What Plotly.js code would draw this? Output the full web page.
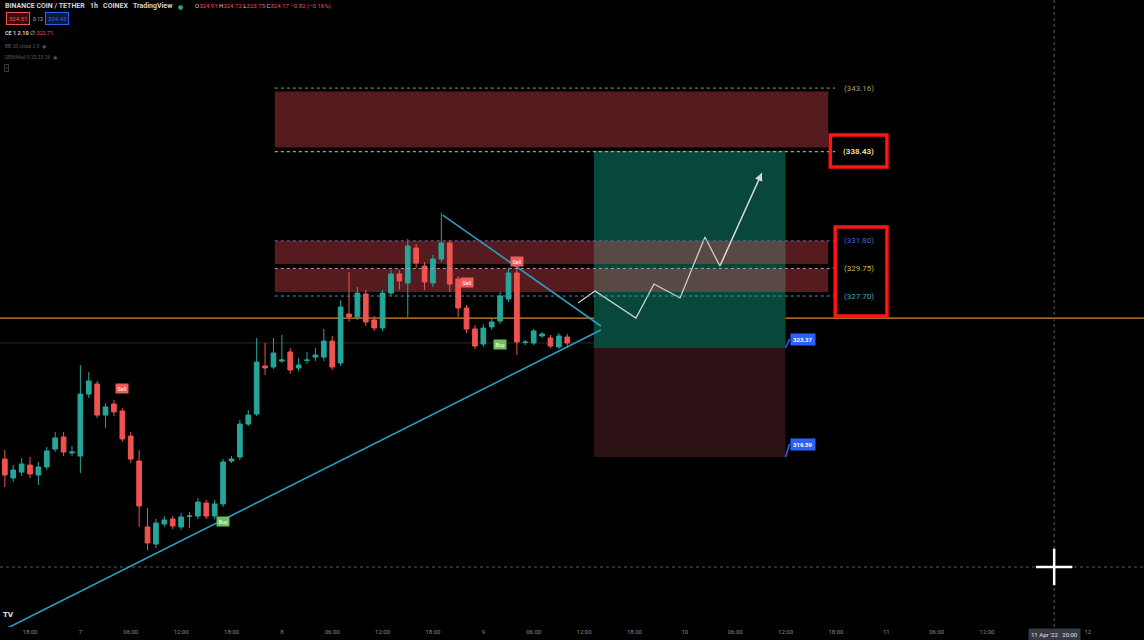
<!DOCTYPE html>
<html>
<head>
<meta charset="utf-8">
<script src="https://cdn.plot.ly/plotly-3.0.1.min.js"></script>
<style>html,body{margin:0;padding:0;background:#000;}#chart{width:1144px;height:640px;}</style>
</head>
<body>
<div id="chart"></div>
<script>
// ---------- DATA (hourly candles, BNB/USDT, COINEX) ----------
const times = [
 '2022-04-06 15:00','2022-04-06 16:00','2022-04-06 17:00','2022-04-06 18:00','2022-04-06 19:00','2022-04-06 20:00','2022-04-06 21:00','2022-04-06 22:00','2022-04-06 23:00',
 '2022-04-07 00:00','2022-04-07 01:00','2022-04-07 02:00','2022-04-07 03:00','2022-04-07 04:00','2022-04-07 05:00','2022-04-07 06:00','2022-04-07 07:00',
 '2022-04-07 08:00','2022-04-07 09:00','2022-04-07 10:00','2022-04-07 11:00','2022-04-07 12:00','2022-04-07 13:00','2022-04-07 14:00','2022-04-07 15:00',
 '2022-04-07 16:00','2022-04-07 17:00','2022-04-07 18:00','2022-04-07 19:00','2022-04-07 20:00','2022-04-07 21:00','2022-04-07 22:00','2022-04-07 23:00',
 '2022-04-08 00:00','2022-04-08 01:00','2022-04-08 02:00','2022-04-08 03:00','2022-04-08 04:00','2022-04-08 05:00','2022-04-08 06:00','2022-04-08 07:00',
 '2022-04-08 08:00','2022-04-08 09:00','2022-04-08 10:00','2022-04-08 11:00','2022-04-08 12:00','2022-04-08 13:00','2022-04-08 14:00','2022-04-08 15:00',
 '2022-04-08 16:00','2022-04-08 17:00','2022-04-08 18:00','2022-04-08 19:00','2022-04-08 20:00','2022-04-08 21:00','2022-04-08 22:00','2022-04-08 23:00',
 '2022-04-09 00:00','2022-04-09 01:00','2022-04-09 02:00','2022-04-09 03:00','2022-04-09 04:00','2022-04-09 05:00','2022-04-09 06:00','2022-04-09 07:00',
 '2022-04-09 08:00','2022-04-09 09:00','2022-04-09 10:00'
];
const openP = [315.58,314.17,314.61,315.13,314.39,314.99,316.32,317.22,316.03,315.80,320.41,321.16,318.85,319.67,319.15,317.29,315.43,310.53,309.26,310.75,311.12,310.53,311.31,311.34,312.31,311.34,312.24,315.43,315.73,318.18,318.93,322.50,322.42,322.87,323.54,322.35,322.90,323.16,323.16,324.35,322.72,326.36,326.14,327.85,325.92,325.32,327.92,329.34,328.67,331.27,329.93,328.67,330.45,331.64,328.96,326.81,325.25,324.13,325.40,325.84,327.48,329.41,324.24,324.21,324.73,324.58,323.91,324.65];
const highP = [316.25,315.13,315.66,315.73,315.36,316.47,317.59,317.59,316.55,322.57,322.05,321.38,319.74,319.97,319.37,317.59,316.25,311.94,311.12,311.34,311.34,311.57,311.64,312.68,312.53,312.53,315.58,315.80,318.48,319.22,324.58,324.21,324.58,324.80,323.83,323.09,323.54,323.83,325.25,324.73,327.40,329.48,328.37,328.15,326.21,328.15,329.63,329.63,331.94,331.57,330.23,330.75,333.87,331.86,329.19,327.03,325.54,325.62,326.06,328.00,329.78,329.78,324.43,325.25,325.02,324.80,324.95,324.88];
const lowP  = [313.50,313.87,314.32,314.17,313.65,314.76,316.10,315.80,315.80,314.54,320.12,318.63,317.89,318.78,316.85,315.28,310.53,308.82,308.96,310.53,310.38,310.30,310.45,311.12,311.12,311.12,312.01,315.28,315.51,318.03,318.78,321.83,322.27,322.72,321.90,322.12,322.64,322.87,322.87,322.20,322.50,325.77,325.92,325.47,325.10,325.10,327.70,328.15,326.14,329.78,328.15,328.37,330.23,328.00,326.14,324.95,323.76,323.91,325.17,325.62,327.25,323.31,324.06,324.06,324.58,323.83,323.76,323.83];
const closeP= [314.39,314.76,315.21,314.47,314.99,316.18,317.14,316.10,316.10,320.41,321.38,318.85,319.45,319.08,317.07,315.58,312.09,309.34,310.82,311.05,310.60,311.27,311.34,312.38,311.34,312.24,315.36,315.58,318.18,318.85,322.79,322.35,323.46,322.94,322.20,322.57,322.94,323.31,324.35,322.42,326.88,326.14,327.92,325.77,325.32,327.92,329.34,328.82,331.42,330.15,328.74,330.45,331.64,328.59,326.81,325.25,323.98,325.32,325.77,327.70,329.41,324.28,324.28,325.10,324.88,323.98,324.73,324.21];

// horizontal levels drawn on the chart
const levelPrices = [343.16, 338.43, 331.80, 329.75, 327.70];
const levelLabels = ['(343.16)', '(338.43)', '(331.80)', '(329.75)', '(327.70)'];
// resistance zones (top, bottom)
const zoneTop    = [342.90, 331.80, 329.75];
const zoneBottom = [338.75, 330.08, 328.00];
// long position tool
const targetPrice = 338.50;
const entryPrice  = 323.83;
const stopPrice   = 315.73;
const entryLabel  = '323.37';
const stopLabel   = '319.59';
const currentPrice = 326.06;
const lastClose = 324.21;
// triangle trend lines
const lowerTrendX = ['2022-04-06 14:30', '2022-04-09 14:00'];
const lowerTrendY = [302.76, 325.17];
const upperTrendX = ['2022-04-08 19:10', '2022-04-09 14:00'];
const upperTrendY = [333.72, 325.47];
// projected path
const pathX = ['2022-04-09 11:17','2022-04-09 13:18','2022-04-09 18:11','2022-04-09 20:20','2022-04-09 23:26','2022-04-10 02:24','2022-04-10 04:11','2022-04-10 09:11'];
const pathY = [327.18, 328.07, 326.06, 328.59, 327.55, 332.09, 329.93, 336.85];
// buy / sell signals
const signalTimes = ['2022-04-07 05:00','2022-04-07 17:00','2022-04-08 22:00','2022-04-09 04:00','2022-04-09 02:00'];
const signalPrices = [320.79, 310.97, 328.67, 330.23, 324.13];
const signalTypes = ['Sell','Buy','Sell','Sell','Buy'];
// crosshair
const crossTime = '2022-04-11 20:00';
const crossPrice = 307.55;
// x tick labels
const tickVals = ['2022-04-06 18:00','2022-04-07 00:00','2022-04-07 06:00','2022-04-07 12:00','2022-04-07 18:00','2022-04-08 00:00','2022-04-08 06:00','2022-04-08 12:00','2022-04-08 18:00','2022-04-09 00:00','2022-04-09 06:00','2022-04-09 12:00','2022-04-09 18:00','2022-04-10 00:00','2022-04-10 06:00','2022-04-10 12:00','2022-04-10 18:00','2022-04-11 00:00','2022-04-11 06:00','2022-04-11 12:00','2022-04-12 00:00','2022-04-12 06:00'];
const tickText = ['18:00','7','06:00','12:00','18:00','8','06:00','12:00','18:00','9','06:00','12:00','18:00','10','06:00','12:00','18:00','11','06:00','12:00','12','06:00'];

// ---------- LAYOUT HELPERS ----------
const zoneStart = '2022-04-07 23:10', zoneEnd = '2022-04-10 17:05', lineEnd = '2022-04-10 17:55', labelTime = '2022-04-10 20:45';
const posStart = '2022-04-09 13:10', posEnd = '2022-04-10 12:00';
const levelColors = ['#a89f5c', '#e9dc86', '#3f63d6', '#c8b656', '#3fa6bd'];
const levelLineColors = ['#9a9360', '#d8cf98', '#6a5fc4', '#b59aa0', '#3f9fb4'];

const traces = [
  {
    type: 'candlestick', x: times, open: openP, high: highP, low: lowP, close: closeP,
    increasing: {line: {color: '#26a69a', width: 1}, fillcolor: '#26a69a'},
    decreasing: {line: {color: '#ef5350', width: 1}, fillcolor: '#ef5350'},
    whiskerwidth: 0, hoverinfo: 'none', showlegend: false
  },
  {type: 'scatter', mode: 'lines', x: lowerTrendX, y: lowerTrendY, line: {color: '#2a9fc0', width: 1.6}, hoverinfo: 'none', showlegend: false},
  {type: 'scatter', mode: 'lines', x: upperTrendX, y: upperTrendY, line: {color: '#2a9fc0', width: 1.6}, hoverinfo: 'none', showlegend: false},
  {type: 'scatter', mode: 'lines', x: pathX, y: pathY, line: {color: '#d6d6d6', width: 1.2}, hoverinfo: 'none', showlegend: false},
  {type: 'scatter', mode: 'markers', x: [crossTime], y: [crossPrice], marker: {symbol: 'cross-thin', size: 26, line: {color: '#ffffff', width: 2.5}}, hoverinfo: 'none', showlegend: false}
];

const shapes = [];
// position boxes
shapes.push({type: 'rect', xref: 'x', yref: 'y', x0: posStart, x1: posEnd, y0: entryPrice, y1: targetPrice, fillcolor: '#07483a', line: {width: 0}, layer: 'below'});
shapes.push({type: 'rect', xref: 'x', yref: 'y', x0: posStart, x1: posEnd, y0: stopPrice, y1: entryPrice, fillcolor: '#2b1014', line: {width: 0}, layer: 'below'});
// zones
for (let i = 0; i < zoneTop.length; i++) {
  shapes.push({type: 'rect', xref: 'x', yref: 'y', x0: zoneStart, x1: zoneEnd, y0: zoneBottom[i], y1: zoneTop[i], fillcolor: 'rgba(235,75,85,0.36)', line: {width: 0}, layer: 'below'});
}
// level dotted lines
for (let i = 0; i < levelPrices.length; i++) {
  shapes.push({type: 'line', xref: 'x', yref: 'y', x0: zoneStart, x1: lineEnd, y0: levelPrices[i], y1: levelPrices[i], line: {color: levelLineColors[i], width: 1, dash: 'dot'}});
}
// current price line & last close faint line
shapes.push({type: 'line', xref: 'paper', yref: 'y', x0: 0, x1: 1, y0: currentPrice, y1: currentPrice, line: {color: '#e0892d', width: 1.2}, layer: 'below'});
shapes.push({type: 'line', xref: 'paper', yref: 'y', x0: 0, x1: 0.52, y0: lastClose, y1: lastClose, line: {color: '#2a2a2a', width: 1}, layer: 'below'});
// crosshair dotted lines
shapes.push({type: 'line', xref: 'paper', yref: 'y', x0: 0, x1: 1, y0: crossPrice, y1: crossPrice, line: {color: '#5a5a5a', width: 1, dash: 'dot'}, layer: 'below'});
shapes.push({type: 'line', xref: 'x', yref: 'paper', x0: crossTime, x1: crossTime, y0: 0, y1: 1, line: {color: '#5a5a5a', width: 1, dash: 'dot'}, layer: 'below'});
// red highlight boxes
shapes.push({type: 'rect', xref: 'x', yref: 'y', x0: '2022-04-10 17:20', x1: '2022-04-11 00:05', y0: 337.29, y1: 339.67, line: {color: '#ff1414', width: 3.5}});
shapes.push({type: 'rect', xref: 'x', yref: 'y', x0: '2022-04-10 17:55', x1: '2022-04-11 00:05', y0: 326.21, y1: 332.83, line: {color: '#ff1414', width: 3.5}});

const annotations = [];
for (let i = 0; i < levelPrices.length; i++) {
  annotations.push({xref: 'x', yref: 'y', x: labelTime, y: levelPrices[i], text: i === 1 ? '<b>' + levelLabels[i] + '</b>' : levelLabels[i], showarrow: false, font: {family: 'Roboto, sans-serif', size: 8, color: levelColors[i]}});
}
// position labels
annotations.push({xref: 'x', yref: 'y', x: posEnd, y: entryPrice, ax: 4, ay: -9, text: '<b>' + entryLabel + '</b>', showarrow: true, arrowhead: 0, arrowcolor: '#2962ff', arrowwidth: 1.5, bgcolor: '#2962ff', borderpad: 2, font: {family: 'Roboto, sans-serif', size: 6, color: '#ffffff'}, xanchor: 'left'});
annotations.push({xref: 'x', yref: 'y', x: posEnd, y: stopPrice, ax: 4, ay: -13, text: '<b>' + stopLabel + '</b>', showarrow: true, arrowhead: 0, arrowcolor: '#2962ff', arrowwidth: 1.5, bgcolor: '#2962ff', borderpad: 2, font: {family: 'Roboto, sans-serif', size: 6, color: '#ffffff'}, xanchor: 'left'});
// arrow head on projected path
const n = pathX.length;
annotations.push({xref: 'x', yref: 'y', axref: 'x', ayref: 'y', x: pathX[n - 1], y: pathY[n - 1], ax: pathX[n - 2], ay: pathY[n - 2], text: '', showarrow: true, arrowhead: 2, arrowsize: 1.3, arrowwidth: 1.2, arrowcolor: '#d6d6d6'});
// signals
for (let i = 0; i < signalTimes.length; i++) {
  const sell = signalTypes[i] === 'Sell';
  annotations.push({xref: 'x', yref: 'y', x: signalTimes[i], y: signalPrices[i], text: signalTypes[i], showarrow: false, bgcolor: sell ? '#f05a5a' : '#6cc15e', borderpad: 1.5, font: {family: 'Roboto, sans-serif', size: 5.5, color: '#ffffff'}});
}
// header texts
const hdrFont = {family: 'Roboto, sans-serif', size: 7, color: '#d1d4dc'};
function py(p) { return 1 - p / 627; }
function px(p) { return p / 1144; }
annotations.push({xref: 'paper', yref: 'paper', x: px(3), y: py(6), xanchor: 'left', yanchor: 'middle', showarrow: false, text: '<b>BINANCE COIN / TETHER   1h   COINEX   TradingView</b>', font: hdrFont});
annotations.push({xref: 'paper', yref: 'paper', x: px(180), y: py(6), xanchor: 'center', yanchor: 'middle', showarrow: false, text: '●', font: {family: 'DejaVu Sans', size: 6, color: '#26a69a'}});
annotations.push({xref: 'paper', yref: 'paper', x: px(193), y: py(6), xanchor: 'left', yanchor: 'middle', showarrow: false,
  text: 'O<span style="color:#ef5350">324.91</span> H<span style="color:#ef5350">324.72</span> L<span style="color:#ef5350">323.75</span> C<span style="color:#ef5350">324.17 −0.82 (−0.16%)</span>',
  font: {family: 'Roboto, sans-serif', size: 6, color: '#d1d4dc'}});
annotations.push({xref: 'paper', yref: 'paper', x: px(6), y: py(19), xanchor: 'left', yanchor: 'middle', showarrow: false, text: '324.51', bgcolor: '#3a0d10', bordercolor: '#ef5350', borderwidth: 1, borderpad: 2, font: {family: 'Roboto, sans-serif', size: 6, color: '#ef5350'}});
annotations.push({xref: 'paper', yref: 'paper', x: px(31), y: py(19), xanchor: 'left', yanchor: 'middle', showarrow: false, text: '0.13', font: {family: 'Roboto, sans-serif', size: 5, color: '#b0b0b0'}});
annotations.push({xref: 'paper', yref: 'paper', x: px(45), y: py(19), xanchor: 'left', yanchor: 'middle', showarrow: false, text: '324.43', bgcolor: '#0d1a3a', bordercolor: '#2962ff', borderwidth: 1, borderpad: 2, font: {family: 'Roboto, sans-serif', size: 6, color: '#2962ff'}});
annotations.push({xref: 'paper', yref: 'paper', x: px(3), y: py(33), xanchor: 'left', yanchor: 'middle', showarrow: false, text: '<b>CE 1 2.10</b> ∅ <span style="color:#ef5350">322.71</span>', font: {family: 'Roboto, sans-serif', size: 5.5, color: '#d1d4dc'}});
annotations.push({xref: 'paper', yref: 'paper', x: px(3), y: py(46), xanchor: 'left', yanchor: 'middle', showarrow: false, text: 'BB 20 close 2 0  ◉', font: {family: 'Roboto, sans-serif', size: 5, color: '#5c5c5c'}});
annotations.push({xref: 'paper', yref: 'paper', x: px(3), y: py(57), xanchor: 'left', yanchor: 'middle', showarrow: false, text: 'DEMAfull 9 20 33 26  ◉', font: {family: 'Roboto, sans-serif', size: 5, color: '#5c5c5c'}});
annotations.push({xref: 'paper', yref: 'paper', x: px(4), y: py(68), xanchor: 'left', yanchor: 'middle', showarrow: false, text: '˅', bordercolor: '#3a3a3a', borderwidth: 1, borderpad: 0, font: {family: 'Roboto, sans-serif', size: 5, color: '#5c5c5c'}});
// TV logo
annotations.push({xref: 'paper', yref: 'paper', x: px(8), y: py(615), xanchor: 'center', yanchor: 'middle', showarrow: false, text: '<b>TV</b>', font: {family: 'DejaVu Sans', size: 7, color: '#e0e0e0'}});
// crosshair date label
annotations.push({xref: 'x', yref: 'paper', x: crossTime, y: 0, yanchor: 'top', yshift: -1, showarrow: false, text: "11 Apr '22   20:00", bgcolor: '#363a45', borderpad: 2, font: {family: 'Roboto, sans-serif', size: 6, color: '#e0e0e0'}});

const layout = {
  width: 1144, height: 640,
  margin: {l: 0, r: 0, t: 0, b: 13},
  paper_bgcolor: '#000000', plot_bgcolor: '#000000',
  showlegend: false, hovermode: false, boxgap: 0.2,
  xaxis: {
    type: 'date', range: ['2022-04-06 14:25:35', '2022-04-12 06:42'],
    rangeslider: {visible: false}, showgrid: false, zeroline: false, showline: false,
    tickvals: tickVals, ticktext: tickText, ticks: '', tickfont: {family: 'Roboto, sans-serif', size: 6, color: '#8a8a8a'}
  },
  yaxis: {range: [303.09, 349.71], showgrid: false, zeroline: false, showticklabels: false, showline: false, ticks: ''},
  shapes: shapes,
  annotations: annotations
};

Plotly.newPlot('chart', traces, layout, {displayModeBar: false, staticPlot: true});
</script>
</body>
</html>
